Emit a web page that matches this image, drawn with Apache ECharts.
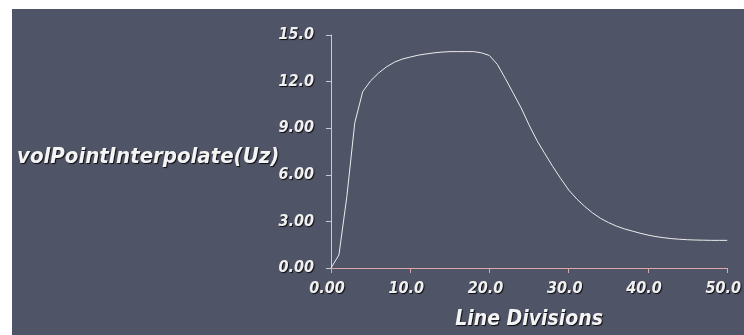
<!DOCTYPE html>
<html>
<head>
<meta charset="utf-8">
<script src="https://cdn.jsdelivr.net/npm/echarts@6/dist/echarts.min.js"></script>
<style>
    html, body { margin: 0; padding: 0; background: #ffffff; }
    #chart-container { position: absolute; left: 12px; top: 9px; width: 732px; height: 326px; }
</style>
</head>
<body>
<div id="chart-container"></div>
<script>
// values, one per line division
const divisions = [
    0, 1, 2, 3, 4, 5, 6, 7, 8, 9,
    10, 11, 12, 13, 14, 15, 16, 17, 18, 19,
    20, 21, 22, 23, 24, 25, 26, 27, 28, 29,
    30, 31, 32, 33, 34, 35, 36, 37, 38, 39,
    40, 41, 42, 43, 44, 45, 46, 47, 48, 49, 50
];
const uzValues = [
    0, 0.84, 4.6, 9.35, 11.35, 12.05, 12.55, 12.95, 13.25, 13.45,
    13.58, 13.7, 13.78, 13.85, 13.9, 13.93, 13.93, 13.93, 13.93, 13.85,
    13.68, 13.1, 12.2, 11.25, 10.3, 9.2, 8.2, 7.35, 6.52, 5.75,
    5.02, 4.45, 3.97, 3.55, 3.2, 2.93, 2.7, 2.52, 2.38, 2.24,
    2.12, 2.02, 1.95, 1.89, 1.85, 1.82, 1.8, 1.79, 1.78, 1.78, 1.78
];
const xTickLabels = ['0.00', '10.0', '20.0', '30.0', '40.0', '50.0'];
const yTickLabels = ['0.00', '3.00', '6.00', '9.00', '12.0', '15.0'];

const yTitle = 'volPointInterpolate(Uz)';
const xTitle = 'Line Divisions';

const fontFamily = '"DejaVu Sans Condensed", "DejaVu Sans", sans-serif';
const shadow = {
    textShadowColor: 'rgba(0,0,0,0.85)',
    textShadowBlur: 1,
    textShadowOffsetX: 1,
    textShadowOffsetY: 1
};

const chartDom = document.getElementById('chart-container');
const myChart = echarts.init(chartDom, null, { renderer: 'canvas' });

const option = {
    backgroundColor: '#505467',
    animation: false,
    grid: { left: 319, right: 9, top: 26, bottom: 67, containLabel: false },
    graphic: {
        elements: [{
            type: 'text',
            left: 5,
            top: 137,
            style: Object.assign({
                text: yTitle,
                fill: '#f4f4f4',
                font: 'italic bold 22px "DejaVu Sans Condensed", "DejaVu Sans", sans-serif'
            }, shadow)
        }]
    },
    xAxis: {
        type: 'value',
        min: 0,
        max: 50,
        interval: 10,
        name: xTitle,
        nameLocation: 'middle',
        nameGap: 41,
        nameTextStyle: Object.assign({
            color: '#f4f4f4',
            fontFamily: fontFamily,
            fontStyle: 'italic',
            fontWeight: 'bold',
            fontSize: 21
        }, shadow),
        axisLine: { show: true, lineStyle: { color: '#dca6ac', width: 1 } },
        axisTick: { show: true, length: 5, lineStyle: { color: '#dca6ac' } },
        axisLabel: Object.assign({
            color: '#f0f0f0',
            fontFamily: fontFamily,
            fontStyle: 'italic',
            fontWeight: 'bold',
            fontSize: 16,
            margin: 13,
            padding: [0, 8, 0, 0],
            formatter: function (v) { return xTickLabels[Math.round(v / 10)]; }
        }, shadow),
        splitLine: { show: false }
    },
    yAxis: {
        type: 'value',
        min: 0,
        max: 15,
        interval: 3,
        axisLine: { show: true, lineStyle: { color: '#c9c9d2', width: 1 } },
        axisTick: { show: true, length: 5, lineStyle: { color: '#c9c9d2' } },
        axisLabel: Object.assign({
            color: '#f0f0f0',
            fontFamily: fontFamily,
            fontStyle: 'italic',
            fontWeight: 'bold',
            fontSize: 16,
            margin: 17,
            padding: [9, 0, 0, 0],
            formatter: function (v) { return yTickLabels[Math.round(v / 3)]; }
        }, shadow),
        splitLine: { show: false }
    },
    series: [{
        type: 'line',
        data: divisions.map((d, i) => [d, uzValues[i]]),
        showSymbol: false,
        smooth: false,
        lineStyle: { color: '#ececec', width: 1 }
    }]
};
myChart.setOption(option);
</script>
</body>
</html>
